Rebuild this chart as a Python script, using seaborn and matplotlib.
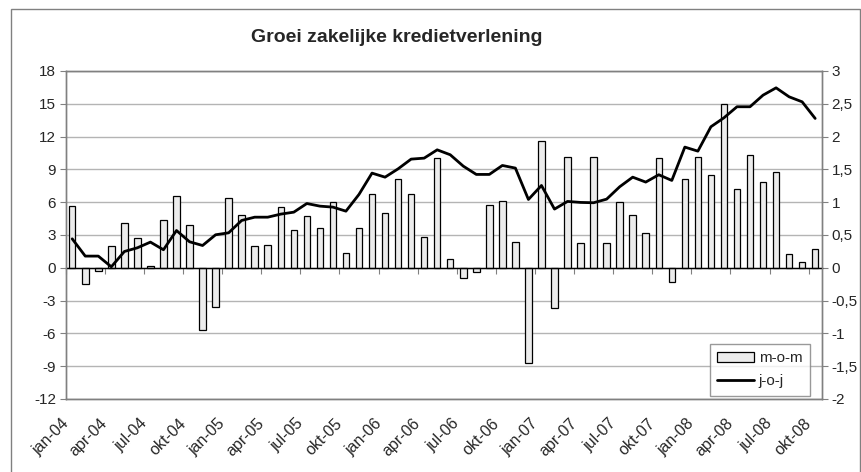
import numpy as np
import pandas as pd
import matplotlib
matplotlib.use("Agg")
import matplotlib.pyplot as plt
import matplotlib.ticker as mticker
import matplotlib.transforms as mtransforms
from matplotlib.patches import Rectangle
from matplotlib.lines import Line2D
import seaborn as sns

# ---------------- data ----------------
month_names = ["jan", "feb", "mrt", "apr", "mei", "jun",
               "jul", "aug", "sep", "okt", "nov", "dec"]
years = ["04", "05", "06", "07", "08"]
months = [f"{m}-{y}" for y in years for m in month_names][:58]   # jan-04 .. okt-08

# month-on-month growth (%), right axis
mom = [0.94, -0.24, -0.05, 0.33, 0.68, 0.45, 0.03, 0.73, 1.09, 0.66,
       -0.95, -0.59, 1.07, 0.81, 0.33, 0.35, 0.92, 0.57, 0.79, 0.60,
       1.00, 0.23, 0.60, 1.13, 0.83, 1.35, 1.13, 0.47, 1.67, 0.13,
       -0.15, -0.06, 0.96, 1.02, 0.40, -1.45, 1.93, -0.61, 1.69, 0.38,
       1.69, 0.38, 1.00, 0.81, 0.53, 1.67, -0.22, 1.35, 1.69, 1.42,
       2.49, 1.20, 1.72, 1.31, 1.46, 0.21, 0.09, 0.29]

# year-on-year growth (%), left axis
yoy = [2.65, 1.07, 1.07, 0.09, 1.49, 1.83, 2.35, 1.65, 3.41, 2.38,
       2.04, 3.02, 3.20, 4.33, 4.63, 4.63, 4.91, 5.09, 5.88, 5.64,
       5.55, 5.18, 6.71, 8.66, 8.29, 9.05, 9.94, 10.03, 10.79, 10.34,
       9.30, 8.54, 8.54, 9.36, 9.12, 6.25, 7.53, 5.37, 6.07, 5.98,
       5.95, 6.28, 7.41, 8.29, 7.84, 8.51, 7.99, 11.04, 10.67, 12.90,
       13.72, 14.73, 14.73, 15.79, 16.46, 15.64, 15.18, 13.66]

left_ticks = list(range(-12, 19, 3))
right_ticks = [-2, -1.5, -1, -0.5, 0, 0.5, 1, 1.5, 2, 2.5, 3]

df = pd.DataFrame({"maand": months, "pos": np.arange(len(months)),
                   "mom": mom, "yoy": yoy})

# ---------------- style ----------------
sns.set_style("white")
plt.rcParams["font.family"] = ["Liberation Sans", "DejaVu Sans"]
plt.rcParams["axes.unicode_minus"] = False
FS = 11
SPINE = "#808080"

fig = plt.figure(figsize=(8.62, 4.72), dpi=100)
fig.patch.set_facecolor("white")

L, R, T, B = 65.7, 821.7, 71.0, 399.0
ax = fig.add_axes([L / 862, 1 - B / 472, (R - L) / 862, (B - T) / 472])
ax2 = ax.twinx()

# bars (right axis)
sns.barplot(data=df, x="pos", y="mom", ax=ax2, native_scale=True,
            color="#ececec", saturation=1, edgecolor="black",
            linewidth=0.9, width=0.5, errorbar=None)
# line (left axis)
sns.lineplot(data=df, x="pos", y="yoy", ax=ax, color="black",
             linewidth=2.0, sort=False)

ax.set_zorder(ax2.get_zorder() + 1)
ax.patch.set_visible(False)

n = len(months)
ax.set_xlim(-0.5, n - 0.5)
ax2.set_xlim(-0.5, n - 0.5)
ax.set_ylim(-12, 18)
ax2.set_ylim(-2, 3)

ax.set_yticks(left_ticks)
ax2.set_yticks(right_ticks)
ax2.yaxis.set_major_formatter(
    mticker.FuncFormatter(lambda v, p: f"{v:g}".replace(".", ",")))

ax2.yaxis.grid(True, color="#b4b4b4", linewidth=1.0)
ax2.set_axisbelow(True)
ax.grid(False)

ax.set_xticks(df["pos"][::3])
ax.set_xticklabels(df["maand"][::3], rotation=45, ha="right",
                   va="center", rotation_mode="anchor", fontsize=11.5)
ax.tick_params(axis="x", length=0, pad=16)
shift = mtransforms.ScaledTranslation(-6 / 100, 0, fig.dpi_scale_trans)
for lab in ax.get_xticklabels():
    lab.set_transform(lab.get_transform() + shift)
ax.tick_params(axis="y", direction="out", length=4, color=SPINE,
               labelsize=FS, pad=3)
ax2.tick_params(axis="y", direction="out", length=4, color=SPINE,
                labelsize=FS, pad=3)
ax2.tick_params(axis="x", length=0, labelbottom=False)

for a in (ax, ax2):
    a.set_xlabel("")
    a.set_ylabel("")
    for s in a.spines.values():
        s.set_color(SPINE)
        s.set_linewidth(1.0)
        s.set_visible(True)

# zero line with category-boundary ticks
zero_frac = (0 - (-12)) / (18 - (-12))
sec = ax.secondary_xaxis(zero_frac)
sec.set_xticks(np.arange(-0.5, n, 3))
sec.tick_params(axis="x", direction="out", length=4, color=SPINE,
                labelbottom=False, labeltop=False)
for s in sec.spines.values():
    s.set_color("black")
    s.set_linewidth(1.0)

# legend
handles = [Rectangle((0, 0), 1, 1, facecolor="#ececec", edgecolor="black",
                     linewidth=0.9),
           Line2D([0], [0], color="black", linewidth=2.0)]
leg = ax.legend(handles, ["m-o-m", "j-o-j"], loc="lower right",
                bbox_to_anchor=(0.9845, 0.009), borderaxespad=0,
                fontsize=FS, frameon=True, fancybox=False,
                edgecolor=SPINE, handlelength=2.4, handletextpad=0.3,
                borderpad=0.5, labelspacing=0.6)
leg.get_frame().set_linewidth(1.0)

# title
fig.text(397 / 862, 1 - 37 / 472, "Groei zakelijke kredietverlening",
         ha="center", va="center", fontsize=14, fontweight="bold")

# outer chart frame
fig.patches.append(Rectangle((11 / 862, -0.1), (860 - 11) / 862,
                             1 - 9 / 472 + 0.1, transform=fig.transFigure,
                             fill=False, edgecolor=SPINE, linewidth=1.0))

fig.savefig("out.png", dpi=100, facecolor="white")
